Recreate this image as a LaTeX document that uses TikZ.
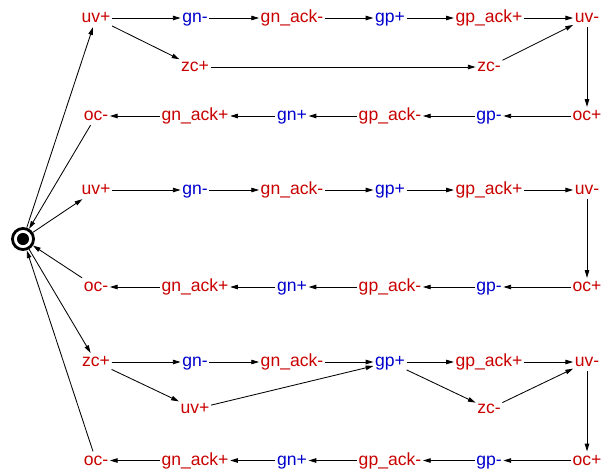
\documentclass[tikz,border=0pt]{standalone}
\usepackage{fontspec}
\setmainfont{Liberation Sans}
\usetikzlibrary{arrows.meta}
\definecolor{sigred}{RGB}{200,0,0}
\definecolor{sigblue}{RGB}{0,0,205}
\tikzset{
  lbl/.style={font=\fontsize{12.5}{14}\selectfont,inner sep=1pt,text height=8.7pt,text depth=1.9pt},
  rd/.style={lbl,text=sigred},
  bl/.style={lbl,text=sigblue},
  tr/.style={-{Triangle[length=5.5pt,width=3.2pt]},line width=0.6pt},
}
\begin{document}
\begin{tikzpicture}[x=0.025cm,y=-0.025cm]
\useasboundingbox (0,0) rectangle (604,468);
% initial state
\node[circle,draw,line width=2pt,minimum size=15pt,inner sep=0pt] (start) at (23,239) {};
\fill (start.center) circle (4.3pt);
% first block
\node[rd] (uvpA) at (96,18) {uv+};
\node[bl] (gnmA) at (195,18) {gn-};
\node[rd] (gnackmA) at (292,18) {gn\_ack-};
\node[bl] (gppA) at (390,18) {gp+};
\node[rd] (gpackpA) at (489,18) {gp\_ack+};
\node[rd] (uvmA) at (587,18) {uv-};
\node[rd] (zcpA) at (195,67) {zc+};
\node[rd] (zcmA) at (489,67) {zc-};
\node[rd] (ocmA) at (96,116) {oc-};
\node[rd] (gnackpA) at (195,116) {gn\_ack+};
\node[bl] (gnpA) at (292,116) {gn+};
\node[rd] (gpackmA) at (390,116) {gp\_ack-};
\node[bl] (gpmA) at (489,116) {gp-};
\node[rd] (ocpA) at (587,116) {oc+};
\draw[tr] (start) -- (uvpA);
\draw[tr] (uvpA) -- (gnmA);
\draw[tr] (gnmA) -- (gnackmA);
\draw[tr] (gnackmA) -- (gppA);
\draw[tr] (gppA) -- (gpackpA);
\draw[tr] (gpackpA) -- (uvmA);
\draw[tr] (uvpA) -- (zcpA);
\draw[tr] (zcpA) -- (zcmA);
\draw[tr] (zcmA) -- (uvmA);
\draw[tr] (uvmA) -- (ocpA);
\draw[tr] (ocpA) -- (gpmA);
\draw[tr] (gpmA) -- (gpackmA);
\draw[tr] (gpackmA) -- (gnpA);
\draw[tr] (gnpA) -- (gnackpA);
\draw[tr] (gnackpA) -- (ocmA);
\draw[tr] (ocmA) -- (start);
% second block
\node[rd] (uvpB) at (96,190) {uv+};
\node[bl] (gnmB) at (195,190) {gn-};
\node[rd] (gnackmB) at (292,190) {gn\_ack-};
\node[bl] (gppB) at (390,190) {gp+};
\node[rd] (gpackpB) at (489,190) {gp\_ack+};
\node[rd] (uvmB) at (587,190) {uv-};
\node[rd] (ocmB) at (96,287) {oc-};
\node[rd] (gnackpB) at (195,287) {gn\_ack+};
\node[bl] (gnpB) at (292,287) {gn+};
\node[rd] (gpackmB) at (390,287) {gp\_ack-};
\node[bl] (gpmB) at (489,287) {gp-};
\node[rd] (ocpB) at (587,287) {oc+};
\draw[tr] (start) -- (uvpB);
\draw[tr] (uvpB) -- (gnmB);
\draw[tr] (gnmB) -- (gnackmB);
\draw[tr] (gnackmB) -- (gppB);
\draw[tr] (gppB) -- (gpackpB);
\draw[tr] (gpackpB) -- (uvmB);
\draw[tr] (uvmB) -- (ocpB);
\draw[tr] (ocpB) -- (gpmB);
\draw[tr] (gpmB) -- (gpackmB);
\draw[tr] (gpackmB) -- (gnpB);
\draw[tr] (gnpB) -- (gnackpB);
\draw[tr] (gnackpB) -- (ocmB);
\draw[tr] (ocmB) -- (start);
% third block
\node[rd] (zcpC) at (96,362) {zc+};
\node[bl] (gnmC) at (195,362) {gn-};
\node[rd] (gnackmC) at (292,362) {gn\_ack-};
\node[bl] (gppC) at (390,362) {gp+};
\node[rd] (gpackpC) at (489,362) {gp\_ack+};
\node[rd] (uvmC) at (587,362) {uv-};
\node[rd] (uvpC) at (195,409) {uv+};
\node[rd] (zcmC) at (489,409) {zc-};
\node[rd] (ocmC) at (96,460.5) {oc-};
\node[rd] (gnackpC) at (195,460.5) {gn\_ack+};
\node[bl] (gnpC) at (292,460.5) {gn+};
\node[rd] (gpackmC) at (390,460.5) {gp\_ack-};
\node[bl] (gpmC) at (489,460.5) {gp-};
\node[rd] (ocpC) at (587,460.5) {oc+};
\draw[tr] (start) -- (zcpC);
\draw[tr] (zcpC) -- (gnmC);
\draw[tr] (gnmC) -- (gnackmC);
\draw[tr] (gnackmC) -- (gppC);
\draw[tr] (gppC) -- (gpackpC);
\draw[tr] (gpackpC) -- (uvmC);
\draw[tr] (zcpC) -- (uvpC);
\draw[tr] (uvpC) -- (gppC);
\draw[tr] (gppC) -- (zcmC);
\draw[tr] (zcmC) -- (uvmC);
\draw[tr] (uvmC) -- (ocpC);
\draw[tr] (ocpC) -- (gpmC);
\draw[tr] (gpmC) -- (gpackmC);
\draw[tr] (gpackmC) -- (gnpC);
\draw[tr] (gnpC) -- (gnackpC);
\draw[tr] (gnackpC) -- (ocmC);
\draw[tr] (ocmC) -- (start);
\end{tikzpicture}
\end{document}
